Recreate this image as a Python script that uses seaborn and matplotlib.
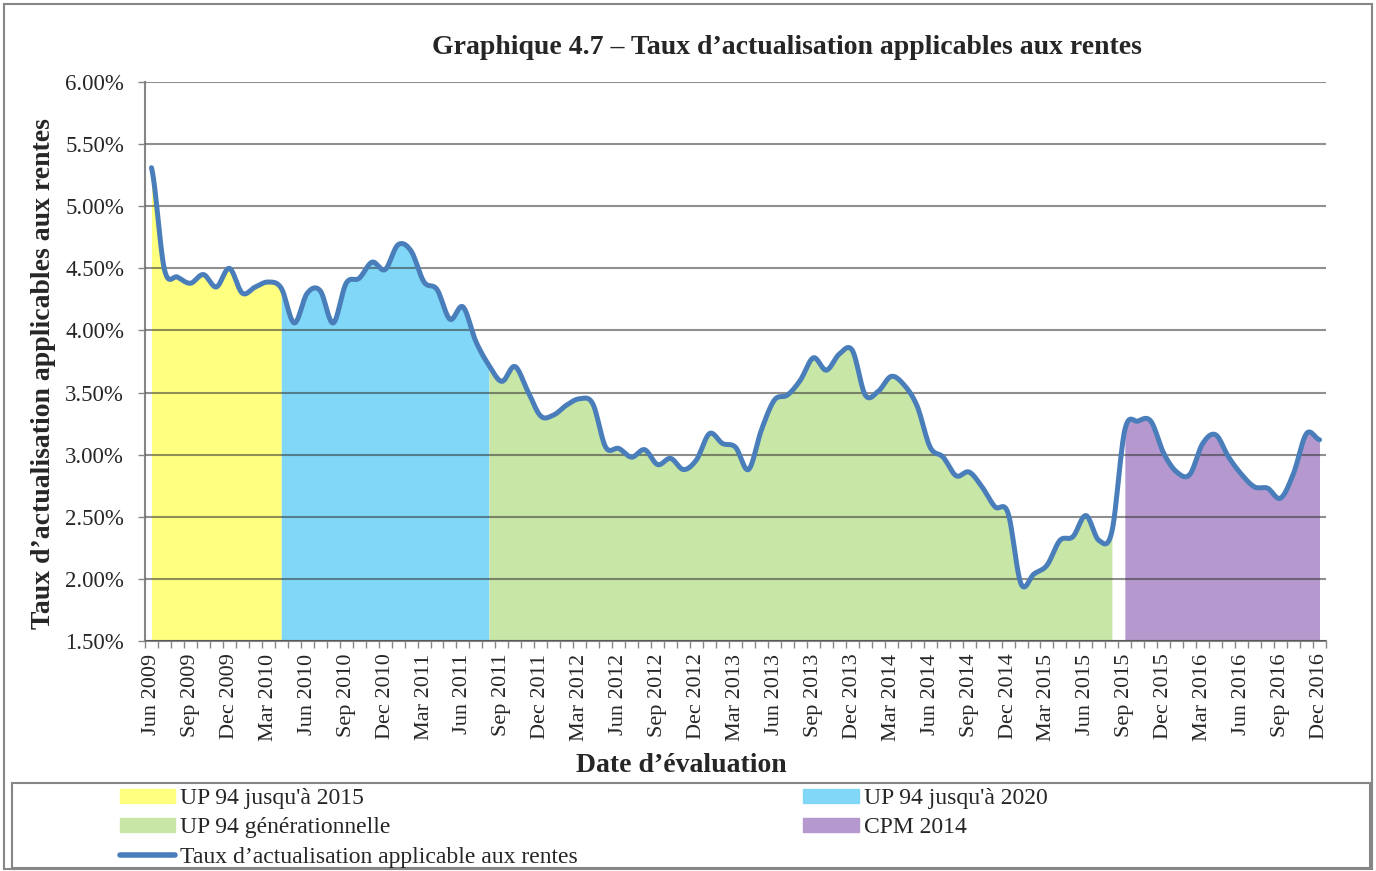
import numpy as np
import pandas as pd
import matplotlib
matplotlib.use("Agg")
import matplotlib.pyplot as plt
from matplotlib.patches import Patch, Rectangle
from matplotlib.lines import Line2D
from matplotlib.ticker import FuncFormatter, MultipleLocator
import seaborn as sns

# monthly evaluation dates, Jun 2009 - Dec 2016
months = pd.date_range("2009-06-01", "2016-12-01", freq="MS").strftime("%b %Y").tolist()

# discount rate (%)
taux = [5.31, 4.49, 4.43, 4.38, 4.45, 4.35, 4.50, 4.30, 4.35, 4.39,
        4.34, 4.06, 4.30, 4.32, 4.06, 4.38, 4.42, 4.55, 4.49, 4.69,
        4.64, 4.39, 4.33, 4.09, 4.19, 3.91, 3.72, 3.59, 3.71, 3.51,
        3.31, 3.32, 3.40, 3.45, 3.41, 3.06, 3.05, 2.98, 3.04, 2.92,
        2.97, 2.88, 2.96, 3.17, 3.09, 3.06, 2.88, 3.20, 3.44, 3.48,
        3.60, 3.78, 3.68, 3.81, 3.84, 3.48, 3.51, 3.63, 3.56, 3.39,
        3.06, 2.98, 2.83, 2.86, 2.74, 2.58, 2.53, 1.96, 2.04, 2.11,
        2.31, 2.34, 2.51, 2.31, 2.38, 3.20, 3.27, 3.27, 3.01, 2.86,
        2.84, 3.09, 3.16, 2.98, 2.84, 2.74, 2.73, 2.65, 2.85, 3.17,
        3.12]

# mortality tables in force, as (first month, last month) index
tables = ["UP 94 jusqu'à 2015", "UP 94 jusqu'à 2020", "UP 94 générationnelle", "CPM 2014"]
table_start = [0, 10, 26, 75]
table_end = [10, 26, 74, 90]
table_colors = ["#FFFF80", "#80D7F7", "#C8E6A6", "#B498CE"]

line_label = "Taux d’actualisation applicable aux rentes"
line_color = "#4A7EBB"
grid_color = "#333333"


def smooth(y, n=12):
    """Catmull-Rom curve through the points, like Excel's smoothed line."""
    y = np.asarray(y, dtype=float)
    p = np.concatenate([[y[0]], y, [y[-1]]])
    xs, ys = [], []
    t = np.linspace(0, 1, n, endpoint=False)
    for k in range(len(y) - 1):
        p0, p1, p2, p3 = p[k], p[k + 1], p[k + 2], p[k + 3]
        c1 = p1 + (p2 - p0) / 6
        c2 = p2 - (p3 - p1) / 6
        b = (1 - t) ** 3 * p1 + 3 * (1 - t) ** 2 * t * c1 + 3 * (1 - t) * t ** 2 * c2 + t ** 3 * p2
        xs.append(k + t)
        ys.append(b)
    xs.append([len(y) - 1])
    ys.append([y[-1]])
    return np.concatenate(xs), np.concatenate(ys)


sns.set_theme(style="white")
plt.rcParams["font.family"] = ["Liberation Serif", "DejaVu Serif"]

fig = plt.figure(figsize=(13.76, 8.71), dpi=100)
ax = fig.add_axes([145 / 1376, 1 - 641 / 871, 1181 / 1376, 559 / 871])

xs, ys = smooth(taux)
df = pd.DataFrame({"x": xs, "taux": ys})

for start, end, col in zip(table_start, table_end, table_colors):
    m = (df["x"] >= start) & (df["x"] <= end)
    ax.fill_between(df["x"][m], 1.5, df["taux"][m], color=col, lw=0, zorder=1)

sns.lineplot(data=df, x="x", y="taux", ax=ax, color=line_color, lw=3.6,
             sort=False, zorder=3, solid_capstyle="round", solid_joinstyle="round")

ax.set_xlim(-0.5, len(months) - 0.5)
ax.set_ylim(1.5, 6.0)
ax.yaxis.set_major_locator(MultipleLocator(0.5))
ax.yaxis.set_major_formatter(FuncFormatter(lambda v, _: "%.2f%%" % v))
ax.set_axisbelow(False)
ax.yaxis.grid(True, color=grid_color, alpha=0.55, lw=1.5)
ax.xaxis.grid(False)

ticks = list(range(0, len(months), 3))
ax.set_xticks(ticks)
ax.set_xticklabels([months[i] for i in ticks], rotation=90, fontsize=16)
ax.set_xticks(np.arange(-0.5, len(months), 1), minor=True)
ax.tick_params(axis="x", which="major", length=0, pad=9)
ax.tick_params(axis="x", which="minor", length=5, width=1, color="#868686", direction="out", bottom=True)
ax.tick_params(axis="y", length=5, width=1, color="#868686", direction="out", left=True, labelsize=16.5, pad=10)

for side in ["top", "right"]:
    ax.spines[side].set_visible(False)
for side in ["left", "bottom"]:
    ax.spines[side].set_color("#868686")
    ax.spines[side].set_linewidth(1.5)

ax.set_ylabel("Taux d’actualisation applicables aux rentes", fontsize=20, fontweight="bold")
ax.yaxis.set_label_coords(-0.0755, 0.478)
ax.set_xlabel("Date d’évaluation", fontsize=20, fontweight="bold")
ax.xaxis.set_label_coords(0.454, -0.200)

fig.text(787 / 1376, 1 - 48 / 871, "Graphique 4.7 – Taux d’actualisation applicables aux rentes",
         ha="center", va="center", fontsize=20, fontweight="bold")

# legend: areas and line, two columns
handles = [Patch(color=table_colors[0]), Patch(color=table_colors[2]),
           Line2D([], [], color=line_color, lw=4, solid_capstyle="round"),
           Patch(color=table_colors[1]), Patch(color=table_colors[3])]
labels = [tables[0], tables[2], line_label, tables[1], tables[3]]
fig.legend(handles, labels, loc="upper left", bbox_to_anchor=(120 / 1376, 1 - 788 / 871),
           ncol=2, frameon=False, fontsize=17, borderpad=0, borderaxespad=0,
           handlelength=2.35, handleheight=0.55, handletextpad=0.2,
           labelspacing=0.35, columnspacing=9.55)

fig.patches.append(Rectangle((12 / 1376, 3 / 871), 1358 / 1376, 85 / 871, transform=fig.transFigure,
                             fill=False, ec="#868686", lw=1.5))
fig.patches.append(Rectangle((4 / 1376, 2 / 871), 1368 / 1376, 865 / 871, transform=fig.transFigure,
                             fill=False, ec="#868686", lw=1.5))

fig.savefig("out.png", dpi=100)
